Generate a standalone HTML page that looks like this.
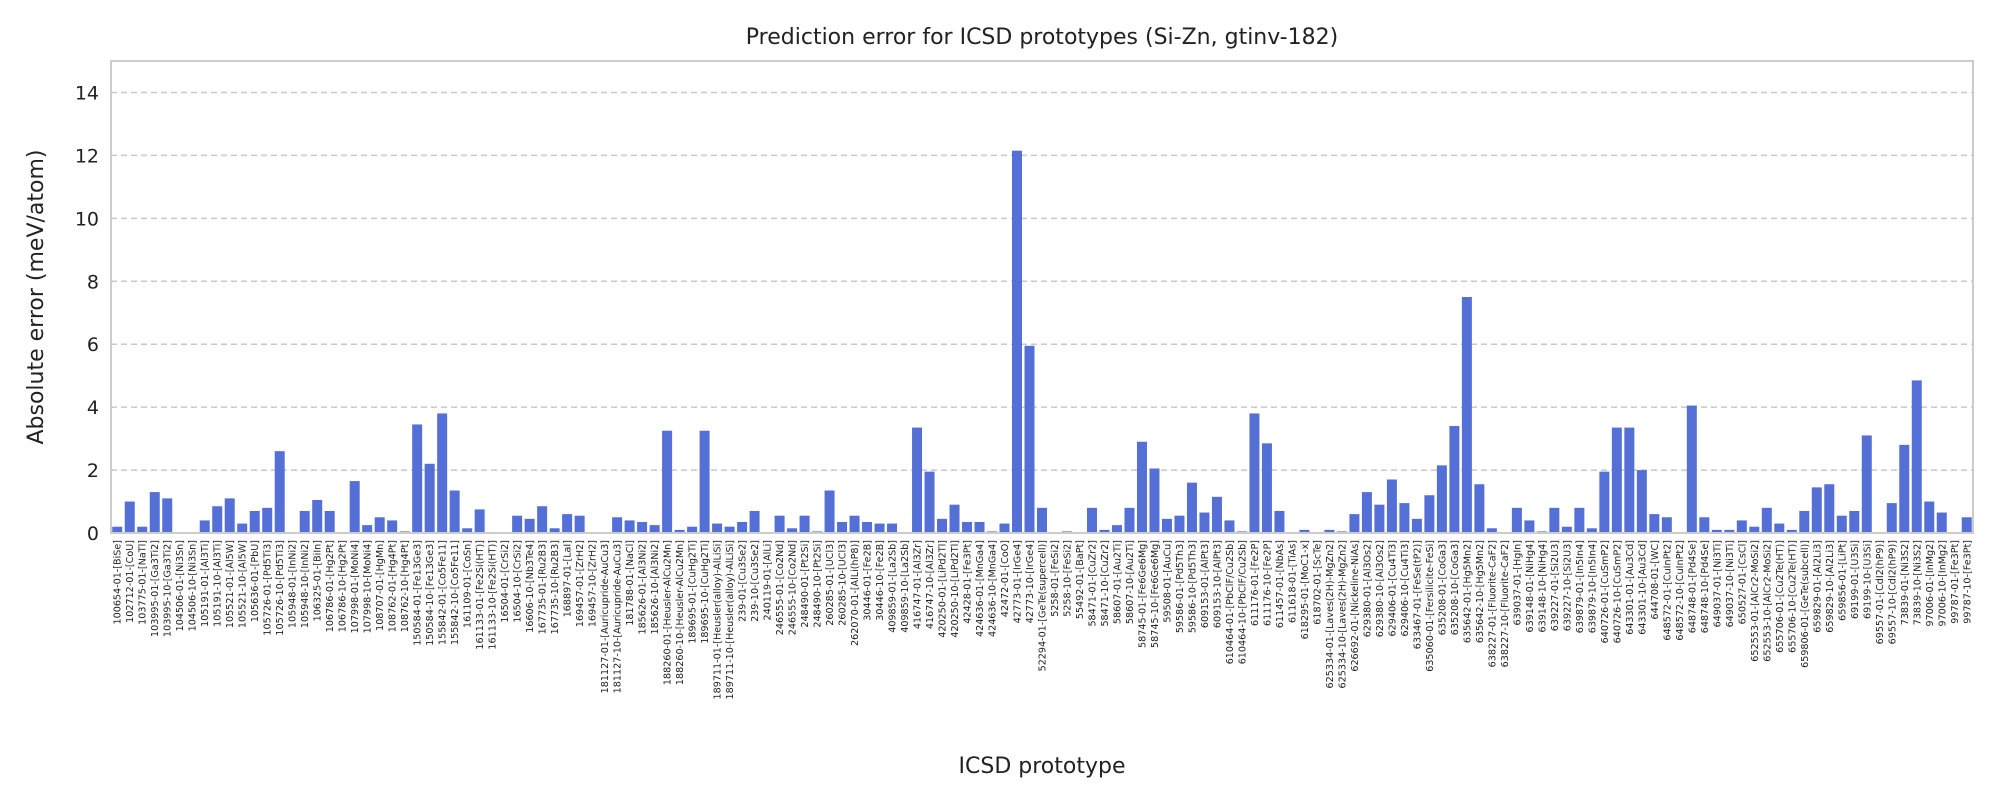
<!DOCTYPE html>
<html><head><meta charset="utf-8"><style>
body{margin:0;background:#fff;}
svg{display:block;font-family:"DejaVu Sans","Liberation Sans",sans-serif;}
</style></head><body>
<svg id="chart" width="2000" height="800" viewBox="0 0 2000 800">
<text x="1042" y="44" font-size="22" text-anchor="middle" fill="#222">Prediction error for ICSD prototypes (Si-Zn, gtinv-182)</text>
<text transform="translate(43,297) rotate(-90)" font-size="22" text-anchor="middle" fill="#222">Absolute error (meV/atom)</text>
<text x="1042" y="773" font-size="22" text-anchor="middle" fill="#222">ICSD prototype</text>
<g id="grid"></g><g id="bars"></g><g id="yt"></g><g id="xt"></g>
<rect x="111" y="61" width="1862" height="472" fill="none" stroke="#cccccc" stroke-width="2"/>
</svg>
<script>
const categories = ["100654-01-[BiSe]","102712-01-[CoU]","103775-01-[NaTl]","103995-01-[Ga3Ti2]","103995-10-[Ga3Ti2]","104506-01-[Ni3Sn]","104506-10-[Ni3Sn]","105191-01-[Al3Ti]","105191-10-[Al3Ti]","105521-01-[Al5W]","105521-10-[Al5W]","105636-01-[PbU]","105726-01-[Pd5Ti3]","105726-10-[Pd5Ti3]","105948-01-[InNi2]","105948-10-[InNi2]","106325-01-[BiIn]","106786-01-[Hg2Pt]","106786-10-[Hg2Pt]","107998-01-[MoNi4]","107998-10-[MoNi4]","108707-01-[HgMn]","108762-01-[Hg4Pt]","108762-10-[Hg4Pt]",
"150584-01-[Fe13Ge3]","150584-10-[Fe13Ge3]","155842-01-[Co5Fe11]","155842-10-[Co5Fe11]","161109-01-[CoSn]","161133-01-[Fe2Si(HT)]","161133-10-[Fe2Si(HT)]","16504-01-[CrSi2]","16504-10-[CrSi2]","16606-10-[Nb3Te4]","167735-01-[Ru2B3]","167735-10-[Ru2B3]","168897-01-[LaI]","169457-01-[ZrH2]","169457-10-[ZrH2]","181127-01-[Auricupride-AuCu3]","181127-10-[Auricupride-AuCu3]","181788-01-[NaCl]","185626-01-[Al3Ni2]","185626-10-[Al3Ni2]","188260-01-[Heusler-AlCu2Mn]","188260-10-[Heusler-AlCu2Mn]","189695-01-[CuHg2Ti]","189695-10-[CuHg2Ti]","189711-01-[Heusler(alloy)-AlLiSi]","189711-10-[Heusler(alloy)-AlLiSi]",
"239-01-[Cu3Se2]","239-10-[Cu3Se2]","240119-01-[AlLi]","246555-01-[Co2Nd]","246555-10-[Co2Nd]","248490-01-[Pt2Si]","248490-10-[Pt2Si]","260285-01-[UCl3]","260285-10-[UCl3]","262070-01-[AlLi(hP8)]","30446-01-[Fe2B]","30446-10-[Fe2B]","409859-01-[La2Sb]","409859-10-[La2Sb]","416747-01-[Al3Zr]","416747-10-[Al3Zr]","420250-01-[LiPd2Tl]","420250-10-[LiPd2Tl]","42428-01-[Fe3Pt]","424636-01-[MnGa4]","424636-10-[MnGa4]","42472-01-[CoO]","42773-01-[IrGe4]","42773-10-[IrGe4]","52294-01-[GeTe(supercell)]",
"5258-01-[FeSi2]","5258-10-[FeSi2]","55492-01-[BaPt]","58471-01-[CuZr2]","58471-10-[CuZr2]","58607-01-[Au2Ti]","58607-10-[Au2Ti]","58745-01-[Fe6Ge6Mg]","58745-10-[Fe6Ge6Mg]","59508-01-[AuCu]","59586-01-[Pd5Th3]","59586-10-[Pd5Th3]","609153-01-[AlPt3]","609153-10-[AlPt3]","610464-01-[PbClF/Cu2Sb]","610464-10-[PbClF/Cu2Sb]","611176-01-[Fe2P]","611176-10-[Fe2P]","611457-01-[NbAs]","611618-01-[TiAs]","618295-01-[MoC1-x]","618702-01-[ScTe]","625334-01-[Laves(2H)-MgZn2]","625334-10-[Laves(2H)-MgZn2]","626692-01-[Nickeline-NiAs]",
"629380-01-[Al3Os2]","629380-10-[Al3Os2]","629406-01-[Cu4Ti3]","629406-10-[Cu4Ti3]","633467-01-[FeSe(tP2)]","635060-01-[Fersilicite-FeSi]","635208-01-[CoGa3]","635208-10-[CoGa3]","635642-01-[Hg5Mn2]","635642-10-[Hg5Mn2]","638227-01-[Fluorite-CaF2]","638227-10-[Fluorite-CaF2]","639037-01-[HgIn]","639148-01-[NiHg4]","639148-10-[NiHg4]","639227-01-[Si2U3]","639227-10-[Si2U3]","639879-01-[In5In4]","639879-10-[In5In4]","640726-01-[CuSmP2]","640726-10-[CuSmP2]","643301-01-[Au3Cd]","643301-10-[Au3Cd]","644708-01-[WC]","648572-01-[CuInPt2]","648572-10-[CuInPt2]",
"648748-01-[Pd4Se]","648748-10-[Pd4Se]","649037-01-[Ni3Ti]","649037-10-[Ni3Ti]","650527-01-[CsCl]","652553-01-[AlCr2-MoSi2]","652553-10-[AlCr2-MoSi2]","655706-01-[Cu2Te(HT)]","655706-10-[Cu2Te(HT)]","659806-01-[GeTe(subcell)]","659829-01-[Al2Li3]","659829-10-[Al2Li3]","659856-01-[LiPt]","69199-01-[U3Si]","69199-10-[U3Si]","69557-01-[CdI2(hP9)]","69557-10-[CdI2(hP9)]","73839-01-[Ni3S2]","73839-10-[Ni3S2]","97006-01-[InMg2]","97006-10-[InMg2]","99787-01-[Fe3Pt]","99787-10-[Fe3Pt]"];
const errors = [0.2,1.0,0.2,1.3,1.1,0,0,0.4,0.85,1.1,0.3,0.7,0.8,2.6,0,0.7,1.05,0.7,0,1.65,0.25,0.5,0.4,0.05,
3.45,2.2,3.8,1.35,0.15,0.75,0,0,0.55,0.45,0.85,0.15,0.6,0.55,0,0,0.5,0.4,0.35,0.25,3.25,0.1,0.2,3.25,0.3,0.2,
0.35,0.7,0,0.55,0.15,0.55,0.05,1.35,0.35,0.55,0.35,0.3,0.3,0,3.35,1.95,0.45,0.9,0.35,0.35,0.05,0.3,12.15,5.95,0.8,
0,0.05,0,0.8,0.1,0.25,0.8,2.9,2.05,0.45,0.55,1.6,0.65,1.15,0.4,0.05,3.8,2.85,0.7,0,0.1,0,0.1,0.05,0.6,
1.3,0.9,1.7,0.95,0.45,1.2,2.15,3.4,7.5,1.55,0.15,0,0.8,0.4,0.05,0.8,0.2,0.8,0.15,1.95,3.35,3.35,2.0,0.6,0.5,0,
4.05,0.5,0.1,0.1,0.4,0.2,0.8,0.3,0.1,0.7,1.45,1.55,0.55,0.7,3.1,0,0.95,2.8,4.85,1.0,0.65,0,0.5];
const yTicks = [0,2,4,6,8,10,12,14];
const L=111,R=1973,T=61,B=533,YMAX=15;
const NS='http://www.w3.org/2000/svg';
const step=(R-L)/categories.length;
const xS=i=>L+step*(i+0.5);
const yS=v=>B-(B-T)*v/YMAX;
function mk(tag,attrs,parent){const e=document.createElementNS(NS,tag);for(const k in attrs)e.setAttribute(k,attrs[k]);parent.appendChild(e);return e;}
const grid=document.getElementById('grid'),bars=document.getElementById('bars'),yt=document.getElementById('yt'),xt=document.getElementById('xt');
yTicks.forEach(t=>{
  const g=mk('line',{x1:L,x2:R,y1:yS(t),y2:yS(t),stroke:'#c8c8c8','stroke-width':1.5,'stroke-dasharray':'6,4'},grid);
  
  
  const tx=mk('text',{x:L-12,y:yS(t)+7,'font-size':19,'text-anchor':'end',fill:'#222'},yt);
  tx.textContent=t;
  
  
});
errors.forEach((v,i)=>{
  const w=step*0.8;
  const r=mk('rect',{x:xS(i)-w/2,y:yS(v),width:w,height:B-yS(v),fill:'#5470d6'},bars);
  
  
});
categories.forEach((c,i)=>{
  const tx=mk('text',{transform:`translate(${xS(i)+3.5},540) rotate(-90)`,'font-size':9.6,'text-anchor':'end',fill:'#222'},xt);
  tx.textContent=c;
  
  
});
</script>
</body></html>
